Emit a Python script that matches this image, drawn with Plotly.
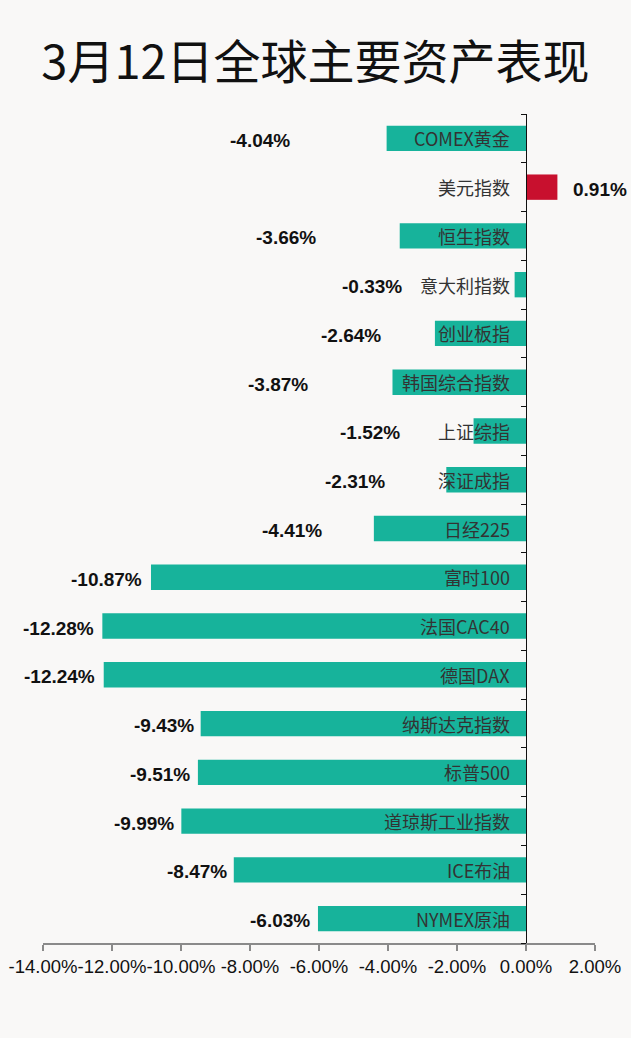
import plotly.graph_objects as go

# data, top to bottom as in the reference
assets = ["COMEX黄金", "美元指数", "恒生指数", "意大利指数", "创业板指", "韩国综合指数",
          "上证综指", "深证成指", "日经225", "富时100", "法国CAC40", "德国DAX",
          "纳斯达克指数", "标普500", "道琼斯工业指数", "ICE布油", "NYMEX原油"]
changes = [-4.04, 0.91, -3.66, -0.33, -2.64, -3.87, -1.52, -2.31, -4.41,
           -10.87, -12.28, -12.24, -9.43, -9.51, -9.99, -8.47, -6.03]
tick_vals = [-14, -12, -10, -8, -6, -4, -2, 0, 2]
tick_text = ["%.2f%%" % v for v in tick_vals]

# gap (px) between bar end and its value label, hand placed in the original
label_gap = [95, 14, 82, 111, 52, 82, 72, 59, 50, 7, 6, 7, 5, 6, 5, 5, 6]

TEAL = "#17b39b"
RED = "#c8102e"
BG = "#f9f8f7"
CJK = "Liberation Sans Narrow, Noto Sans CJK SC, sans-serif"
LATIN = "Liberation Sans, Arial, sans-serif"

pos = list(range(len(assets)))
colors = [RED if v > 0 else TEAL for v in changes]

fig = go.Figure()
fig.add_trace(go.Bar(
    x=changes,
    y=pos,
    orientation="h",
    marker=dict(color=colors, line=dict(width=0)),
    hoverinfo="skip",
))

for p, name, v, gap in zip(pos, assets, changes, label_gap):
    # category name just left of the zero line
    fig.add_annotation(
        x=0, y=p, xref="x", yref="y",
        text=name, showarrow=False,
        xanchor="right", xshift=-14,
        font=dict(family=CJK, size=18, color="#333333"),
    )
    # value label beyond the bar end
    fig.add_annotation(
        x=v, y=p, xref="x", yref="y",
        text="%.2f%%" % v, showarrow=False,
        xanchor="left" if v > 0 else "right",
        xshift=gap if v > 0 else -gap, yshift=-2,
        font=dict(family=LATIN, size=19, color="#111111", weight="bold"),
    )

fig.update_layout(
    width=631, height=1038,
    paper_bgcolor=BG, plot_bgcolor=BG,
    margin=dict(l=43, r=36, t=114, b=95),
    showlegend=False,
    bargap=0.48,
    title=dict(
        text="3月12日全球主要资产表现",
        x=0.5, xanchor="center", y=0.94, yanchor="middle",
        font=dict(family=CJK, size=47, color="#111111"),
    ),
    xaxis=dict(
        range=[-14, 2],
        tickvals=tick_vals, ticktext=tick_text,
        tickangle=0, automargin=False,
        showgrid=False, zeroline=False,
        showline=True, linecolor="#8a8a8a", linewidth=2,
        ticks="outside", tickcolor="#8a8a8a", ticklen=6, tickwidth=2,
        tickfont=dict(family=LATIN, size=18.5, color="#111111"),
        fixedrange=True,
    ),
    yaxis=dict(
        range=[len(assets) - 0.5, -0.5],
        tickvals=[p + 0.5 for p in range(-1, len(assets))],
        showticklabels=False, automargin=False,
        showgrid=False, zeroline=False,
        showline=True, linecolor="#111111", linewidth=1,
        ticks="outside", tickcolor="#111111", ticklen=5,
        anchor="free", position=14 / 16,
        fixedrange=True,
    ),
)

fig.write_html("out.html", config={"displayModeBar": False},
               post_script="document.body.style.margin='0';")
